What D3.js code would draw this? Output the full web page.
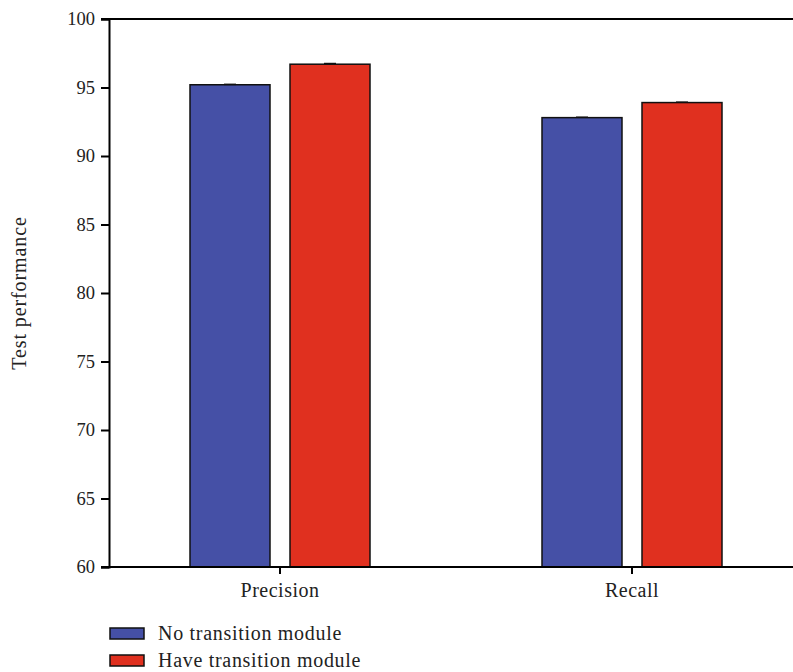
<!DOCTYPE html>
<html><head><meta charset="utf-8">
<script src="https://cdn.jsdelivr.net/npm/d3@7"></script>
<style>body{margin:0;background:#fff}svg{display:block}</style>
</head><body>
<svg id="c" width="793" height="672"></svg>
<script>
const categories = ["Precision", "Recall"];
const seriesNames = ["No transition module", "Have transition module"];
const noTransition = [95.2, 92.8];
const haveTransition = [96.7, 93.9];
const errNo = [0.03, 0.03];
const errHave = [0.05, 0.03];
const yTicks = [60, 65, 70, 75, 80, 85, 90, 95, 100];
const colors = ["#4550A6", "#E0301F"];

const svg = d3.select("#c");
const font = "'Liberation Serif', 'DejaVu Serif', serif";
const y = d3.scaleLinear().domain([60, 100]).range([567, 19]);
const x = d3.scaleBand().domain(categories).range([104, 808]).paddingInner(0).paddingOuter(0);
const xs = d3.scaleBand().domain(seriesNames).range([86, 266]).paddingInner(0.2).paddingOuter(0);

const data = categories.map((c, i) => ({cat: c, vals: [
  {s: seriesNames[0], v: noTransition[i], e: errNo[i], col: colors[0]},
  {s: seriesNames[1], v: haveTransition[i], e: errHave[i], col: colors[1]}
]}));

// bars
const g = svg.append("g");
data.forEach(d => {
  d.vals.forEach(b => {
    const bx = x(d.cat) + xs(b.s);
    g.append("rect").attr("x", bx).attr("y", y(b.v))
      .attr("width", xs.bandwidth()).attr("height", y(60) - y(b.v))
      .attr("fill", b.col).attr("stroke", "#111").attr("stroke-width", 1.5);
    const cx = bx + xs.bandwidth() / 2;
    g.append("line").attr("x1", cx - 6).attr("x2", cx + 6)
      .attr("y1", y(b.v + b.e)).attr("y2", y(b.v + b.e))
      .attr("stroke", "#111").attr("stroke-width", 1.5);
    g.append("line").attr("x1", cx).attr("x2", cx)
      .attr("y1", y(b.v + b.e)).attr("y2", y(b.v))
      .attr("stroke", "#111").attr("stroke-width", 1.5);
  });
});

// y axis
const yAxis = d3.axisLeft(y).tickValues(yTicks).tickSize(8).tickPadding(6);
const ya = svg.append("g").attr("transform", "translate(109,0)").call(yAxis);
ya.select(".domain").attr("stroke", "#000").attr("stroke-width", 2);
ya.selectAll(".tick line").attr("stroke", "#000").attr("stroke-width", 2);
ya.selectAll(".tick text").attr("font-family", font).attr("font-size", 18.5).attr("fill", "#222");

// top line at 100
svg.append("line").attr("x1", 101).attr("x2", 793).attr("y1", y(100)).attr("y2", y(100))
  .attr("stroke", "#000").attr("stroke-width", 2);

// x axis
const xAxis = d3.axisBottom(x).tickSize(7).tickPadding(9).tickSizeOuter(0);
const xa = svg.append("g").attr("transform", `translate(0,${y(60)})`).call(xAxis);
xa.select(".domain").remove();
svg.append("line").attr("x1", 101).attr("x2", 793).attr("y1", y(60)).attr("y2", y(60))
  .attr("stroke", "#000").attr("stroke-width", 2);
xa.selectAll(".tick line").attr("stroke", "#000").attr("stroke-width", 2);
xa.selectAll(".tick text").attr("font-family", font).attr("font-size", 20)
  .attr("letter-spacing", 0.5).attr("fill", "#222");

// y label
svg.append("text").attr("transform", "translate(26,293) rotate(-90)")
  .attr("text-anchor", "middle").attr("font-family", font).attr("font-size", 20)
  .attr("letter-spacing", 0.9).attr("fill", "#222").text("Test performance");

// legend
seriesNames.forEach((s, i) => {
  const ly = 628 + i * 27;
  svg.append("rect").attr("x", 110).attr("y", ly).attr("width", 34).attr("height", 11)
    .attr("fill", colors[i]).attr("stroke", "#111").attr("stroke-width", 1.5);
  svg.append("text").attr("x", 158).attr("y", ly + 12).attr("font-family", font)
    .attr("font-size", 20).attr("letter-spacing", 0.7).attr("fill", "#222").text(s);
});
</script>
</body></html>
